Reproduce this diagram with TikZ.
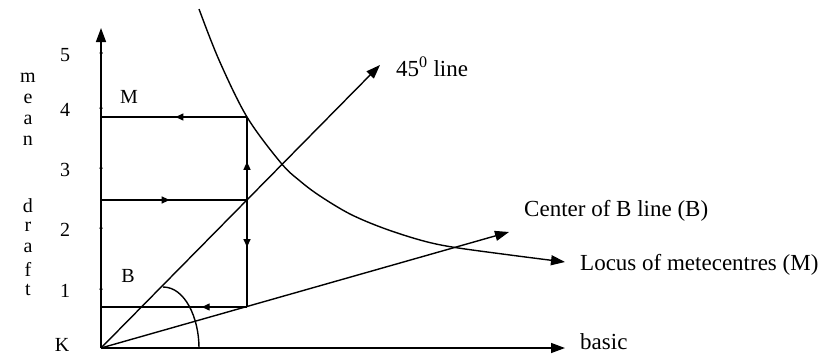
\documentclass[tikz,border=0pt]{standalone}
\usepackage{fontspec}
\setmainfont{Liberation Serif}
\usetikzlibrary{arrows.meta,decorations.markings}
\begin{document}
\begin{tikzpicture}[x=1pt,y=-1pt,
  ln/.style={line width=1.4pt},
  bigarrow/.style={-{Triangle[length=14pt,width=10pt]}},
  midarrow/.style={postaction={decorate},decoration={markings,mark=at position #1 with {\arrow{Triangle[length=8pt,width=7pt]}}}},
  lbl/.style={font=\fontsize{20}{22}\selectfont, inner sep=0pt},
  rlbl/.style={font=\fontsize{23}{26}\selectfont, inner sep=0pt, anchor=west},
  tickdot/.style={circle, fill, inner sep=0pt, minimum size=3.5pt}
]
\useasboundingbox (0,0) rectangle (838,356);
% key points
\coordinate (K) at (101,348);
\coordinate (Ytip) at (101,28);
\coordinate (Xtip) at (565,348);
\coordinate (Ftip) at (380,65);
\coordinate (Ctip) at (509,232);
\coordinate (Mleft) at (101,117);
\coordinate (Mright) at (247,117);
\coordinate (Gleft) at (101,200);
\coordinate (G) at (247,200);
\coordinate (Bleft) at (101,307);
\coordinate (Bright) at (247,307);
% axes and lines from K
\draw[ln,bigarrow] (K) -- (Ytip);
\draw[ln,bigarrow] (K) -- (Xtip);
\draw[ln,bigarrow] (K) -- (Ftip);
\draw[ln,bigarrow] (K) -- (Ctip);
% construction lines
\draw[ln,midarrow=0.49] (Mright) -- (Mleft);
\draw[ln,midarrow=0.47] (Gleft) -- (G);
\draw[ln,midarrow=0.31] (Bright) -- (Bleft);
\draw[ln,midarrow=0.46] (G) -- (Mright);
\draw[ln,midarrow=0.44] (G) -- (Bright);
% locus of metacentres
\draw[ln,bigarrow] plot[smooth,tension=0.55] coordinates {(199,9) (219,60) (247,117) (281,163) (300,181) (320,196) (350,214) (383,228) (420,240) (452,247) (510,255) (565,262)};
% arc
\draw[ln] (163,287) .. controls (185,287) and (199,318) .. (199,348);
% ticks
\foreach \y/\n in {53/5,108/4,168/3,228/2,289/1}{
  \node[tickdot] (t\n) at (101,\y) {};
  \node[lbl] (d\n) at (65,\y+2) {\n};
}
% axis title
\foreach \ch/\y [count=\i] in {m/78,e/99,a/120,n/141,d/206,r/227,a/248,f/269,t/290}{
  \node[lbl] (c\i) at (28,\y) {\ch};
}
\node[lbl] (Klbl) at (62,345) {K};
\node[lbl] (Mlbl) at (129,97) {M};
\node[lbl] (Blbl) at (128,276) {B};
% right labels
\node[rlbl] (lfive) at (396,67) {45\textsuperscript{0} line};
\node[rlbl] (lcen) at (524,211) {Center of B line (B)};
\node[rlbl] (lloc) at (580,265) {Locus of metecentres (M)};
\node[rlbl] (lbas) at (580,342) {basic};
\end{tikzpicture}
\end{document}
